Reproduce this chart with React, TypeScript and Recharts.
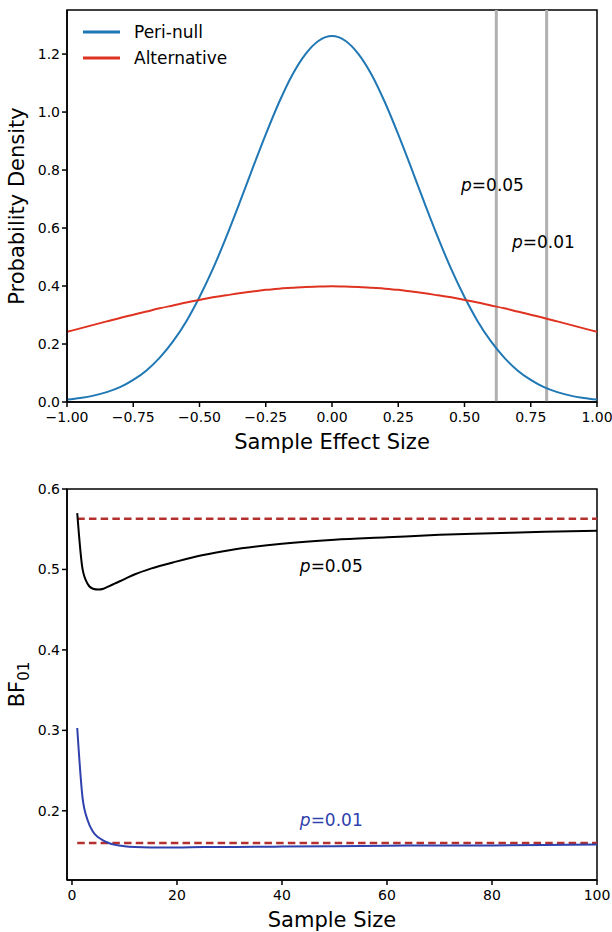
import React from "react";
import {
    LineChart,
    Line,
    XAxis,
    YAxis,
    ReferenceLine,
    ReferenceArea,
    ReferenceDot,
    Legend,
} from "recharts";

const FONT = "DejaVu Sans";

// top panel: densities of the sample effect size
const effectSizes = [
    -1.0, -0.95, -0.9, -0.85, -0.8, -0.75, -0.7, -0.65, -0.6, -0.55, -0.5,
    -0.45, -0.4, -0.35, -0.3, -0.25, -0.2, -0.15, -0.1, -0.05, 0,
    0.05, 0.1, 0.15, 0.2, 0.25, 0.3, 0.35, 0.4, 0.45, 0.5,
    0.55, 0.6, 0.65, 0.7, 0.75, 0.8, 0.85, 0.9, 0.95, 1.0,
];
const periNull = [
    0.0085, 0.014, 0.022, 0.034, 0.051, 0.076, 0.109, 0.153, 0.209, 0.278, 0.362,
    0.458, 0.567, 0.684, 0.805, 0.923, 1.033, 1.128, 1.2, 1.246, 1.262,
    1.246, 1.2, 1.128, 1.033, 0.923, 0.805, 0.684, 0.567, 0.458, 0.362,
    0.278, 0.209, 0.153, 0.109, 0.076, 0.051, 0.034, 0.022, 0.014, 0.0085,
];
const alternative = [
    0.242, 0.254, 0.266, 0.278, 0.29, 0.301, 0.312, 0.323, 0.333, 0.343, 0.352,
    0.361, 0.368, 0.375, 0.381, 0.387, 0.391, 0.394, 0.397, 0.398, 0.399,
    0.398, 0.397, 0.394, 0.391, 0.387, 0.381, 0.375, 0.368, 0.361, 0.352,
    0.343, 0.333, 0.323, 0.312, 0.301, 0.29, 0.278, 0.266, 0.254, 0.242,
];
const seriesNames = ["Peri-null", "Alternative"];
const criticalEffects = [0.62, 0.81];
const effectTicks = [-1, -0.75, -0.5, -0.25, 0, 0.25, 0.5, 0.75, 1];
const densityTicks = [0, 0.2, 0.4, 0.6, 0.8, 1.0, 1.2];

// bottom panel: BF01 against sample size
const sampleSizes = [1, 2, 3, 4, 5, 6, 7, 8, 9, 10, 12, 15, 20, 25, 30, 40, 50, 60, 70, 80, 90, 100];
const bfAtP05 = [
    0.57, 0.501, 0.482, 0.476, 0.475, 0.476, 0.479, 0.482, 0.485, 0.488, 0.494,
    0.501, 0.51, 0.518, 0.524, 0.532, 0.537, 0.54, 0.543, 0.545, 0.547, 0.548,
];
const bfAtP01 = [
    0.303, 0.217, 0.188, 0.174, 0.167, 0.163, 0.16, 0.158, 0.157, 0.156, 0.155,
    0.1545, 0.1545, 0.155, 0.155, 0.1555, 0.156, 0.1565, 0.157, 0.157, 0.1575, 0.158,
];
const limitP05 = 0.563;
const limitP01 = 0.16;
const sizeTicks = [0, 20, 40, 60, 80, 100];
const bfTicks = [0.2, 0.3, 0.4, 0.5, 0.6];

const densityData = effectSizes.map((x, i) => ({ x, periNull: periNull[i], alternative: alternative[i] }));
const bfData = sampleSizes.map((n, i) => ({ n, p05: bfAtP05[i], p01: bfAtP01[i] }));

const tickStyle = { fill: "#000", fontSize: 14, fontFamily: FONT };
const axisLine = { stroke: "#000", strokeWidth: 1.5 };
const tickLine = { stroke: "#000", strokeWidth: 1.5 };

const minus = (v: number, digits: number) => (v < 0 ? "\u2212" : "") + Math.abs(v).toFixed(digits);

const pText = (value: string, color: string) => (props: any) => {
    const { x, y } = props.viewBox;
    return (
        <text x={x} y={y} fill={color} fontSize={17} fontFamily={FONT}>
            <tspan fontStyle="italic">p</tspan>
            <tspan>{"=" + value}</tspan>
        </text>
    );
};

const xLabel = (value: string) => (props: any) => {
    const { x, y, width } = props.viewBox;
    return (
        <text x={x + width / 2} y={y + 47} textAnchor="middle" fontSize={21} fontFamily={FONT} fill="#000">
            {value}
        </text>
    );
};

const yLabel = (children: React.ReactNode) => (props: any) => {
    const { x, y, height } = props.viewBox;
    const cx = x + 24;
    const cy = y + height / 2;
    return (
        <text
            x={cx}
            y={cy}
            transform={`rotate(-90 ${cx} ${cy})`}
            textAnchor="middle"
            fontSize={21}
            fontFamily={FONT}
            fill="#000"
        >
            {children}
        </text>
    );
};

const renderLegend = (props: any) => {
    const items = [...props.payload].sort(
        (a: any, b: any) => seriesNames.indexOf(a.value) - seriesNames.indexOf(b.value)
    );
    return (
        <div style={{ fontFamily: FONT, fontSize: 17, color: "#000" }}>
            {items.map((entry: any) => (
                <div key={entry.value} style={{ display: "flex", alignItems: "center", height: 26 }}>
                    <svg width={37} height={4} style={{ marginRight: 14 }}>
                        <line x1={0} y1={2} x2={37} y2={2} stroke={entry.color} strokeWidth={3} />
                    </svg>
                    <span>{entry.value}</span>
                </div>
            ))}
        </div>
    );
};

function DensityPanel() {
    return (
        <LineChart width={612} height={466} data={densityData} margin={{ top: 10, right: 15, left: 0, bottom: 0 }}>
            <XAxis
                type="number"
                dataKey="x"
                domain={[-1, 1]}
                ticks={effectTicks}
                tickFormatter={(v) => minus(v, 2)}
                tick={tickStyle}
                axisLine={axisLine}
                tickLine={tickLine}
                tickSize={5}
                tickMargin={5}
                height={64}
                allowDataOverflow
                label={xLabel("Sample Effect Size")}
            />
            <YAxis
                type="number"
                domain={[0, 1.352]}
                ticks={densityTicks}
                tickFormatter={(v) => v.toFixed(1)}
                tick={tickStyle}
                axisLine={axisLine}
                tickLine={tickLine}
                tickSize={5}
                width={67}
                allowDataOverflow
                label={yLabel("Probability Density")}
            />
            {criticalEffects.map((c) => (
                <ReferenceLine key={c} x={c} stroke="#b0b0b0" strokeWidth={3} />
            ))}
            <Line
                type="monotone"
                dataKey="periNull"
                name={seriesNames[0]}
                stroke="#1f77b4"
                strokeWidth={2}
                dot={false}
                isAnimationActive={false}
            />
            <Line
                type="monotone"
                dataKey="alternative"
                name={seriesNames[1]}
                stroke="#df3322"
                strokeWidth={2}
                dot={false}
                isAnimationActive={false}
            />
            <ReferenceDot x={0.487} y={0.728} r={0} label={pText("0.05", "#000")} />
            <ReferenceDot x={0.679} y={0.531} r={0} label={pText("0.01", "#000")} />
            <ReferenceArea x1={-1} x2={1} y1={0} y2={1.352} fill="none" stroke="#000" strokeWidth={1.5} />
            <Legend
                layout="vertical"
                align="center"
                verticalAlign="middle"
                wrapperStyle={{ left: 83, top: 19, width: "auto" }}
                content={renderLegend}
            />
        </LineChart>
    );
}

function BayesFactorPanel() {
    const first = sampleSizes[0];
    const last = sampleSizes[sampleSizes.length - 1];
    return (
        <LineChart width={612} height={466} data={bfData} margin={{ top: 23, right: 15, left: 0, bottom: 0 }}>
            <XAxis
                type="number"
                dataKey="n"
                domain={[-0.95, 100]}
                ticks={sizeTicks}
                tick={tickStyle}
                axisLine={axisLine}
                tickLine={tickLine}
                tickSize={5}
                tickMargin={5}
                height={52}
                allowDataOverflow
                label={xLabel("Sample Size")}
            />
            <YAxis
                type="number"
                domain={[0.114, 0.6]}
                ticks={bfTicks}
                tickFormatter={(v) => v.toFixed(1)}
                tick={tickStyle}
                axisLine={axisLine}
                tickLine={tickLine}
                tickSize={5}
                width={67}
                allowDataOverflow
                label={yLabel(
                    <>
                        <tspan>BF</tspan>
                        <tspan fontSize={15} dy={5}>01</tspan>
                    </>
                )}
            />
            <ReferenceLine
                segment={[{ x: first, y: limitP05 }, { x: last, y: limitP05 }]}
                stroke="#b3302f"
                strokeWidth={2.3}
                strokeDasharray="7.5 4.2"
            />
            <ReferenceLine
                segment={[{ x: first, y: limitP01 }, { x: last, y: limitP01 }]}
                stroke="#b3302f"
                strokeWidth={2.3}
                strokeDasharray="7.5 4.2"
            />
            <Line type="monotone" dataKey="p05" stroke="#000" strokeWidth={2} dot={false} isAnimationActive={false} />
            <Line type="monotone" dataKey="p01" stroke="#2f41ad" strokeWidth={2} dot={false} isAnimationActive={false} />
            <ReferenceDot x={43.4} y={0.4966} r={0} label={pText("0.05", "#000")} />
            <ReferenceDot x={43.4} y={0.181} r={0} label={pText("0.01", "#2f41ad")} />
            <ReferenceArea x1={-0.95} x2={100} y1={0.114} y2={0.6} fill="none" stroke="#000" strokeWidth={1.5} />
        </LineChart>
    );
}

export default function App() {
    return (
        <div style={{ width: 612, height: 932, background: "#fff" }}>
            <style>{"body{margin:0}"}</style>
            <DensityPanel />
            <BayesFactorPanel />
        </div>
    );
}
